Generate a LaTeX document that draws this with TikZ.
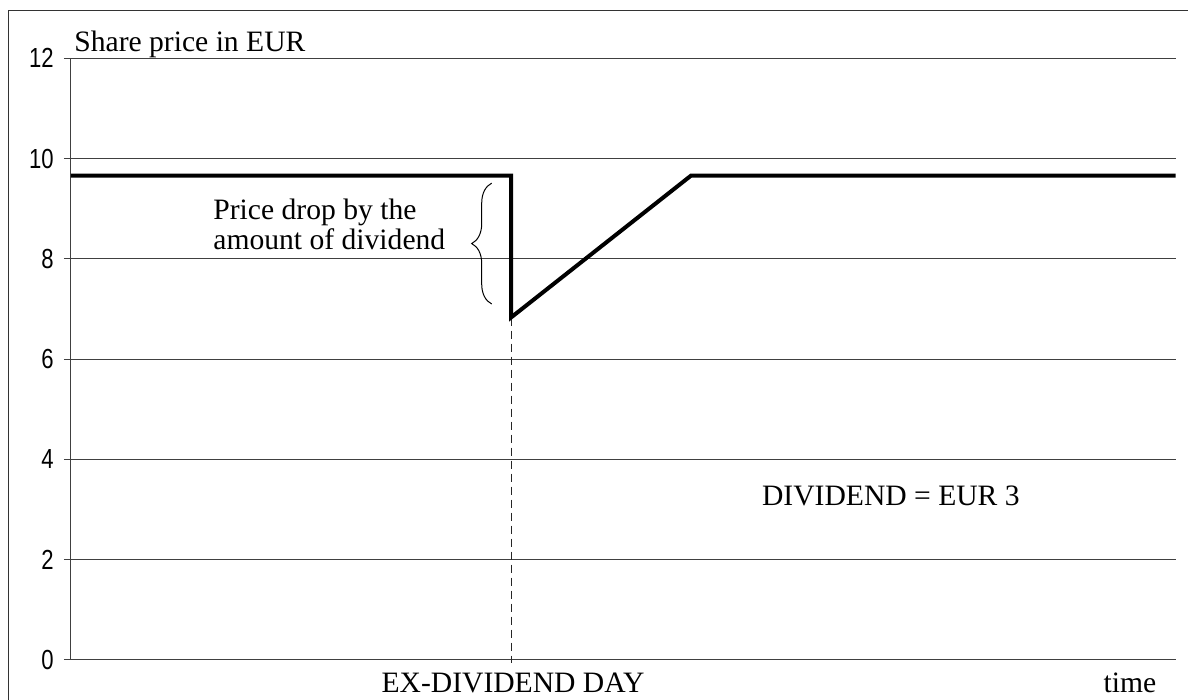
\documentclass[tikz,border=0pt]{standalone}
\usepackage{fontspec}
\setmainfont{Liberation Serif}
\newfontfamily\tickfont[FakeStretch=0.8]{Liberation Sans}
\usetikzlibrary{decorations.pathreplacing, calc}
\tikzstyle{plaintext} = [inner sep=0pt, font=\fontsize{14.8}{17}\selectfont]
\tikzstyle{ticklabel} = [inner sep=0pt, anchor=east, font=\tickfont\fontsize{13.8}{15}\selectfont]
\tikzstyle{gridline} = [line width=0.5pt, black!75]
\tikzstyle{frame} = [line width=0.65pt, black!80]
\tikzstyle{price} = [line width=2pt, line join=miter]
\tikzstyle{dashline} = [line width=0.5pt, black!85, dash pattern=on 4pt off 2.5pt]
\tikzstyle{bracestyle} = [line width=0.5pt, decorate, decoration={brace, amplitude=10pt}]

\begin{document}
\begin{tikzpicture}[x=0.5pt, y=25.07pt]
            \useasboundingbox (-71,-0.798) rectangle (1117,13.163);
            \clip (-71,-0.798) rectangle (1117,13.163);
            \draw [frame] (-62.5,-2) -- (-62.5,12.954) -- (1130,12.954);

            \foreach \v in {0,2,...,12} {
                \draw [gridline] (-7,\v) -- (1104.7,\v);
                \node (tick\v) [ticklabel] at (-17,\v) {\v};
            }
            \draw [gridline] (0,0) -- (0,12);

            \coordinate (start) at (0,9.66);
            \coordinate (exday) at (440,9.66);
            \coordinate (low) at (440,6.83);
            \coordinate (recover) at (620,9.66);
            \coordinate (finish) at (1104.7,9.66);
            \coordinate (axisfoot) at (440,-0.06);
            \coordinate (bracelow) at (420.7,7.10);
            \coordinate (bracehigh) at (420.7,9.51);

            \draw [dashline] (low) -- (axisfoot);
            \draw [price] (start) -- (exday) -- (low) -- (recover) -- (finish);
            \draw [bracestyle] (bracelow) -- (bracehigh);

            \node (yaxis) [plaintext, anchor=base west] at (3,12.13) {Share price in EUR};
            \node (dropA) [plaintext, anchor=base west] at (142,8.775) {Price drop by the};
            \node (dropB) [plaintext, anchor=base west] at (142,8.195) {amount of dividend};
            \node (dividend) [plaintext, anchor=base west] at (690.7,3.09) {DIVIDEND = EUR 3};
            \node (exlabel) [plaintext, anchor=base] at (442,-0.64) {EX-DIVIDEND DAY};
            \node (timelabel) [plaintext, anchor=base] at (1059,-0.64) {time};
        \end{tikzpicture}
\end{document}
